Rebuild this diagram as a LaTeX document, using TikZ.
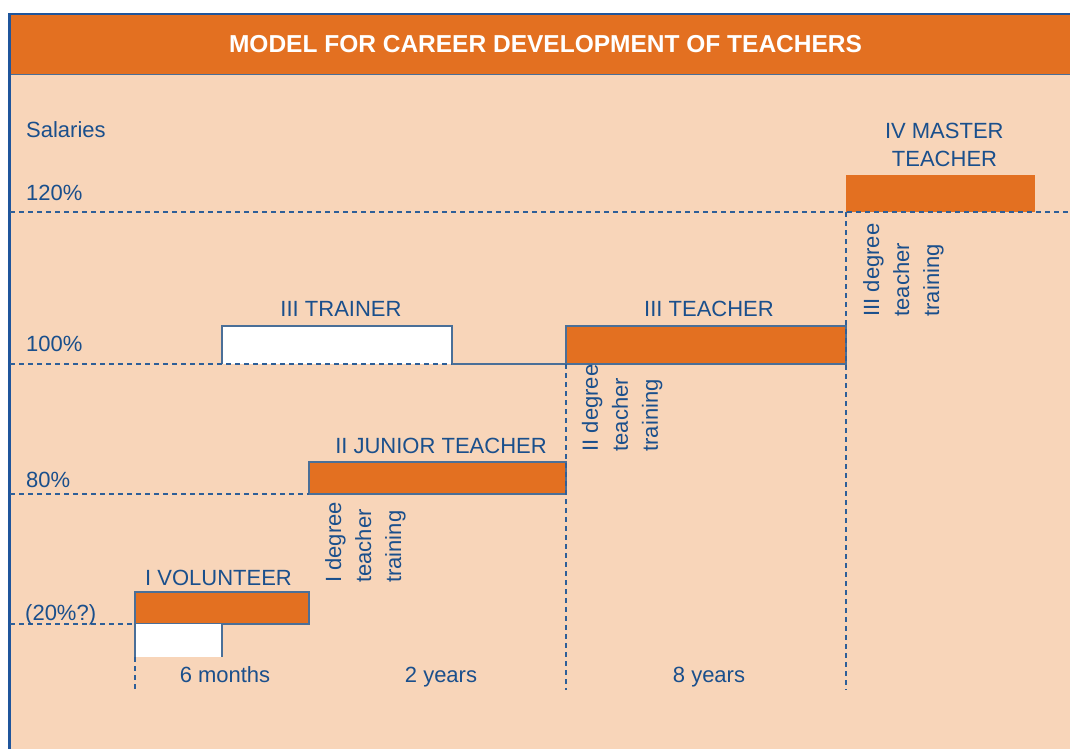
\documentclass[tikz,border=0pt]{standalone}
\usepackage{fontspec}
\setmainfont{Liberation Sans}
\definecolor{orng}{HTML}{E37021}
\definecolor{peach}{HTML}{F8D5B9}
\definecolor{txtblue}{HTML}{1A4F8C}
\definecolor{frameblue}{HTML}{1F559C}
\definecolor{edgeblue}{HTML}{4A6F98}
\definecolor{dashblue}{HTML}{2E5F98}
\begin{document}
\begin{tikzpicture}[x=1pt,y=-1pt,
  lbl/.style={font=\fontsize{22}{30}\selectfont, text=txtblue, inner sep=0pt},
  rot/.style={lbl, rotate=90, anchor=north west, align=left},
  box/.style={draw=edgeblue, line width=1.2pt, fill=orng, inner sep=0pt, outer sep=0pt, anchor=north west},
  edgeline/.style={draw=edgeblue, line width=1.2pt},
  dline/.style={draw=dashblue, line width=1.3pt, dash pattern=on 5pt off 4pt}]
\useasboundingbox (0,0) rectangle (1070,749);
\clip (0,0) rectangle (1070,749);
% frame and title bar
\fill[peach] (9.5,14.5) rectangle (1080,760);
\fill[orng] (9.5,14.5) rectangle (1080,74.5);
\draw[edgeblue, line width=1.5pt] (9.5,74.5) -- (1080,74.5);
\draw[frameblue, line width=2.5pt] (9.5,760) -- (9.5,14) -- (1080,14);
\node[font=\bfseries\fontsize{24.5}{28}\selectfont, text=white, anchor=base, inner sep=0pt] (title) at (545.5,53) {MODEL FOR CAREER DEVELOPMENT OF TEACHERS};

% boxes
\node[box, minimum width=174pt, minimum height=32pt] (vol) at (135,592) {};
\node[box, fill=white, draw=none, minimum width=87pt, minimum height=33pt] (volw) at (135,624) {};
\draw[edgeline] (volw.south west) -- (volw.north west) (volw.north east) -- (volw.south east);
\node[box, minimum width=257pt, minimum height=32pt] (jun) at (309,462) {};
\node[box, fill=white, draw=none, minimum width=230pt, minimum height=38pt] (train) at (222,326) {};
\draw[edgeline] (train.south west) -- (train.north west) -- (train.north east) -- (train.south east);
\node[box, minimum width=280pt, minimum height=38pt] (teach) at (566,326) {};
\node[box, draw=none, minimum width=189pt, minimum height=37pt] (mast) at (846,175) {};

% dashed guide lines
\coordinate (L120) at (10,212);
\coordinate (R120) at (1075,212);
\coordinate (L100) at (10,364);
\coordinate (L80) at (10,494);
\coordinate (L20) at (10,624);
\coordinate (B1) at (135,690);
\coordinate (B2) at (566,690);
\coordinate (B3) at (846,690);
\draw[dline] (L120) -- (R120);
\draw[dline] (L100) -- (train.south east);
\draw[edgeline] (train.south east) -- (teach.south west);
\draw[dline] (L80) -- (jun.south west);
\draw[dline] (L20) -- (vol.south west);
\draw[dline] (volw.south west) -- (B1);
\draw[dline] (teach.south west) -- (B2);
\draw[dline] (mast.south west) -- (B3);

% axis labels
\node[lbl, anchor=base west] (sal) at (26,138) {Salaries};
\node[lbl, anchor=base west] (p120) at (26,200) {120\%};
\node[lbl, anchor=base west] (p100) at (26,351) {100\%};
\node[lbl, anchor=base west] (p80) at (26,487) {80\%};
\node[lbl, anchor=base west] (p20) at (25,620) {(20\%?)};

% role labels
\node[lbl, anchor=base] (tvol) at (218.5,585) {I VOLUNTEER};
\node[lbl, anchor=base] (tjun) at (441,453) {II JUNIOR TEACHER};
\node[lbl, anchor=base] (ttrain) at (341,316) {III TRAINER};
\node[lbl, anchor=base] (tteach) at (709,316) {III TEACHER};
\node[lbl, anchor=base] (tmast1) at (944.3,138.3) {IV MASTER};
\node[lbl, anchor=base] (tmast2) at (944.5,166.7) {TEACHER};

% durations
\node[lbl, anchor=base] (d1) at (225,682) {6 months};
\node[lbl, anchor=base] (d2) at (441,682) {2 years};
\node[lbl, anchor=base] (d3) at (709,682) {8 years};

% training labels
\node[rot] (deg1) at (325,583) {I degree\\teacher\\training};
\node[rot] (deg2) at (581.7,451.7) {II degree\\teacher\\training};
\node[rot] (deg3) at (863,316.7) {III degree\\teacher\\training};
\end{tikzpicture}
\end{document}
